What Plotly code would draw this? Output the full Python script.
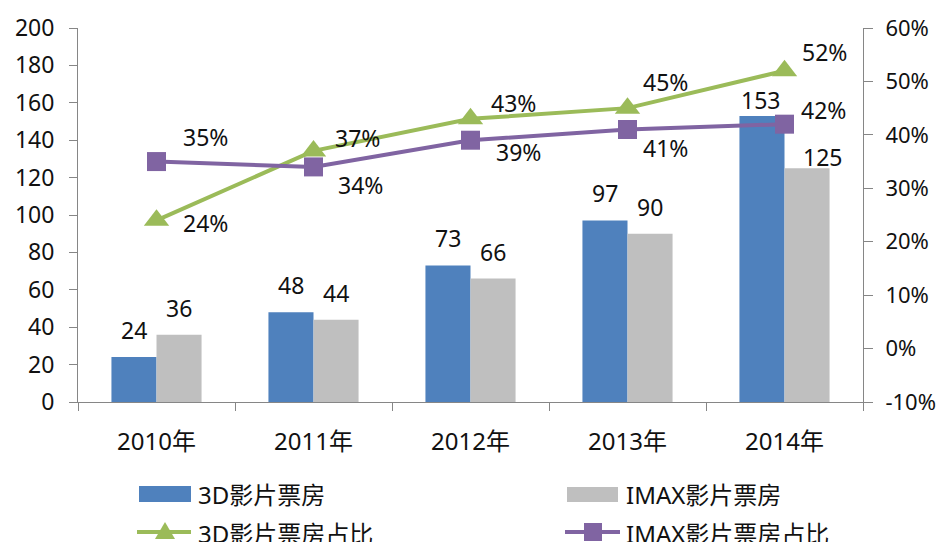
import plotly.graph_objects as go

# ---------------- data ----------------
years = ["2010年", "2011年", "2012年", "2013年", "2014年"]
box_3d = [24, 48, 73, 97, 153]          # 3D影片票房
box_imax = [36, 44, 66, 90, 125]        # IMAX影片票房
share_3d = [0.24, 0.37, 0.43, 0.45, 0.52]    # 3D影片票房占比
share_imax = [0.35, 0.34, 0.39, 0.41, 0.42]  # IMAX影片票房占比
left_ticks = [0, 20, 40, 60, 80, 100, 120, 140, 160, 180, 200]
right_ticks = [-0.1, 0.0, 0.1, 0.2, 0.3, 0.4, 0.5, 0.6]
names = ["3D影片票房", "IMAX影片票房", "3D影片票房占比", "IMAX影片票房占比"]

# ---------------- style ----------------
W, H = 942, 542
ML, MR, MT, MB = 78, 79, 28, 140
PW, PH = W - ML - MR, H - MT - MB
BLUE, GRAY, GREEN, PURPLE = "#4F81BD", "#BFBFBF", "#9BBB59", "#8064A2"
AX = "#868686"
FONT = "Noto Sans, Noto Sans CJK SC, sans-serif"
TXT = "#111111"
LBL = 23

# label pixel offsets (dx, dy-up)
bar3d_off = [(0, 27), (0, 27), (0, 27), (0, 28), (-2, 16)]
barimax_off = [(0, 27), (0, 27), (0, 27), (0, 27), (15, 11)]
line3d_off = [(49, -3), (44, 13), (43, 16), (38, 26), (40, 19)]
lineimax_off = [(49, 25), (47, -18), (48, -12), (38, -18), (39, 14)]

fig = go.Figure()
fig.add_trace(go.Bar(x=years, y=box_3d, name=names[0], marker=dict(color=BLUE, line=dict(width=0))))
fig.add_trace(go.Bar(x=years, y=box_imax, name=names[1], marker=dict(color=GRAY, line=dict(width=0))))
fig.add_trace(go.Scatter(x=years, y=share_3d, name=names[2], yaxis="y2", mode="lines+markers",
                         line=dict(color=GREEN, width=4),
                         marker=dict(symbol="triangle-up", size=22, color=GREEN, line=dict(width=0))))
fig.add_trace(go.Scatter(x=years, y=share_imax, name=names[3], yaxis="y2", mode="lines+markers",
                         line=dict(color=PURPLE, width=4),
                         marker=dict(symbol="square", size=19, color=PURPLE, line=dict(width=0))))

ann = []
for i, yr in enumerate(years):
    dx, dy = bar3d_off[i]
    ann.append(dict(x=yr, y=box_3d[i], xref="x", yref="y", text=str(box_3d[i]), showarrow=False,
                    xshift=-22.5 + dx, yshift=dy, font=dict(size=LBL, color=TXT, family=FONT)))
    dx, dy = barimax_off[i]
    ann.append(dict(x=yr, y=box_imax[i], xref="x", yref="y", text=str(box_imax[i]), showarrow=False,
                    xshift=22.5 + dx, yshift=dy, font=dict(size=LBL, color=TXT, family=FONT)))
    dx, dy = line3d_off[i]
    ann.append(dict(x=yr, y=share_3d[i], xref="x", yref="y2", text=f"{round(share_3d[i]*100)}%",
                    showarrow=False, xshift=dx, yshift=dy, font=dict(size=LBL, color=TXT, family=FONT)))
    dx, dy = lineimax_off[i]
    ann.append(dict(x=yr, y=share_imax[i], xref="x", yref="y2", text=f"{round(share_imax[i]*100)}%",
                    showarrow=False, xshift=dx, yshift=dy, font=dict(size=LBL, color=TXT, family=FONT)))

# ---------------- custom legend ----------------
def px(xp):
    return (xp - ML) / PW

def py(yp):
    return (H - MB - yp) / PH

shapes = [
    dict(type="rect", xref="paper", yref="paper", x0=px(139), x1=px(191), y0=py(502), y1=py(486),
         fillcolor=BLUE, line=dict(width=0)),
    dict(type="rect", xref="paper", yref="paper", x0=px(567), x1=px(618), y0=py(502), y1=py(487),
         fillcolor=GRAY, line=dict(width=0)),
    dict(type="line", xref="paper", yref="paper", x0=px(137), x1=px(191), y0=py(532), y1=py(532),
         line=dict(color=GREEN, width=4)),
    dict(type="line", xref="paper", yref="paper", x0=px(565), x1=px(620), y0=py(532), y1=py(532),
         line=dict(color=PURPLE, width=4)),
    dict(type="path", xref="paper", yref="paper", xsizemode="pixel", ysizemode="pixel",
         xanchor=px(165), yanchor=py(532), path="M -10,-7 L 10,-7 L 0,10 Z",
         fillcolor=GREEN, line=dict(width=0)),
    dict(type="path", xref="paper", yref="paper", xsizemode="pixel", ysizemode="pixel",
         xanchor=px(593), yanchor=py(532), path="M -9,-9 L 9,-9 L 9,9 L -9,9 Z",
         fillcolor=PURPLE, line=dict(width=0)),
]
leg_text = [(196, 495, names[0]), (624, 495, names[1]), (196, 533, names[2]), (624, 533, names[3])]
for xp, yp, t in leg_text:
    ann.append(dict(x=px(xp), y=py(yp), xref="paper", yref="paper", text=t, showarrow=False,
                    xanchor="left", yanchor="middle", font=dict(size=24, color=TXT, family=FONT)))

fig.update_layout(
    width=W, height=H,
    margin=dict(l=ML, r=MR, t=MT, b=MB, pad=0, autoexpand=False),
    paper_bgcolor="white", plot_bgcolor="white",
    barmode="group", bargap=0.426, bargroupgap=0,
    showlegend=False,
    font=dict(family=FONT, size=21, color=TXT),
    xaxis=dict(type="category", range=[-0.5, 4.5], tickson="boundaries", ticks="outside",
               ticklen=8, tickcolor=AX, showline=True, linecolor=AX, linewidth=1,
               showgrid=False, zeroline=False, ticklabelstandoff=18, automargin=False,
               tickfont=dict(size=24, color=TXT, family=FONT)),
    yaxis=dict(range=[0, 200], tickvals=left_ticks, ticks="outside", ticklen=8, tickcolor=AX,
               showline=True, linecolor=AX, linewidth=1, showgrid=False, zeroline=False,
               ticklabelstandoff=10, automargin=False,
               tickfont=dict(size=23, color=TXT, family=FONT)),
    yaxis2=dict(range=[-0.1, 0.6], overlaying="y", side="right", tickvals=right_ticks,
                ticktext=[f"{round(v*100)}%" for v in right_ticks],
                ticks="outside", ticklen=9, tickcolor=AX, showline=True, linecolor=AX, linewidth=1,
                showgrid=False, zeroline=False, ticklabelstandoff=8, automargin=False,
                tickfont=dict(size=22, color=TXT, family=FONT)),
    annotations=ann,
    shapes=shapes,
)

fig.write_html("out.html")
